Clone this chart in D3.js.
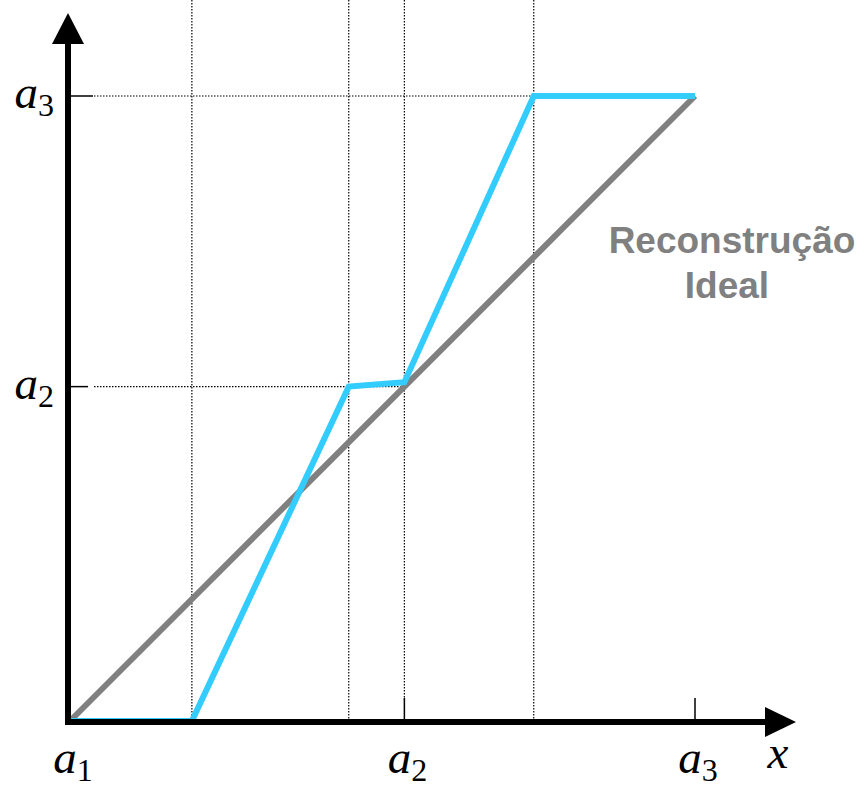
<!DOCTYPE html>
<html>
<head>
<meta charset="utf-8">
<script src="https://cdn.jsdelivr.net/npm/d3@7"></script>
<style>
  html, body { margin: 0; padding: 0; background: #fff; }
  svg { display: block; }
</style>
</head>
<body>
<svg id="chart" width="861" height="787"></svg>
<script>
// Quantization levels, in input units (a1 = 0, a3 = 100)
const levels = [
  { name: "a", sub: "1", value: 0 },
  { name: "a", sub: "2", value: 53.5 },
  { name: "a", sub: "3", value: 100 }
];

// Ideal reconstruction: output equals input
const idealX = [0, 100];
const idealY = [0, 100];

// Actual reconstruction curve (piecewise linear)
const curveX = [0, 19.5, 44.6, 53.5, 74.2, 100];
const curveY = [0, 0, 53.5, 54.2, 100, 100];

// Input positions marked with dotted guides
const guideX = [19.5, 44.6, 53.5, 74.2];
const guideY = [53.5, 100];

const curveLabel = ["Reconstrução", "Ideal"];

const svg = d3.select("#chart");
const x = d3.scaleLinear().domain([0, 100]).range([70, 695]);
const y = d3.scaleLinear().domain([0, 100]).range([721, 96]);

const x0 = 68, y0 = 722;

// Dotted guides
const g = svg.append("g").attr("stroke", "#000").attr("stroke-width", 1.2)
  .attr("stroke-dasharray", "1.5,1.5").attr("fill", "none");
guideX.forEach(v => {
  const bottom = v === 53.5 ? 700 : y0;
  g.append("line").attr("x1", x(v)).attr("x2", x(v)).attr("y1", 0).attr("y2", bottom);
});
guideY.forEach(v => {
  const right = v === 100 ? x(100) : x(53.5);
  g.append("line").attr("x1", 94).attr("x2", right).attr("y1", y(v)).attr("y2", y(v));
});

// Tick marks
const ticks = svg.append("g").attr("stroke", "#000").attr("stroke-width", 1.5);
levels.filter(d => d.value > 0).forEach(d => {
  ticks.append("line").attr("x1", x(d.value)).attr("x2", x(d.value)).attr("y1", 698).attr("y2", y0);
  ticks.append("line").attr("x1", x0).attr("x2", d.value === 100 ? 93 : 88).attr("y1", y(d.value)).attr("y2", y(d.value));
});

// Curves
const line = d3.line().x(d => x(d[0])).y(d => y(d[1]));
svg.append("path")
  .attr("d", line(d3.zip(idealX, idealY)))
  .attr("fill", "none").attr("stroke", "#808080").attr("stroke-width", 6);
svg.append("path")
  .attr("d", line(d3.zip(curveX, curveY)))
  .attr("fill", "none").attr("stroke", "#33ccff").attr("stroke-width", 6)
  .attr("stroke-linejoin", "miter");

// Axes with arrowheads
svg.append("line").attr("x1", x0).attr("x2", x0).attr("y1", 40).attr("y2", y0 + 3)
  .attr("stroke", "#000").attr("stroke-width", 6);
svg.append("line").attr("x1", x0 - 3).attr("x2", 768).attr("y1", y0).attr("y2", y0)
  .attr("stroke", "#000").attr("stroke-width", 6);
svg.append("path").attr("d", `M${x0},13 L${x0 + 16},44 L${x0 - 16},44 Z`).attr("fill", "#000");
svg.append("path").attr("d", `M796,${y0} L765,${y0 - 15} L765,${y0 + 15} Z`).attr("fill", "#000");

// Level labels
const serif = "'Liberation Serif', 'Times New Roman', serif";
function levelLabel(sel, d) {
  sel.attr("font-family", serif).attr("font-style", "italic").attr("font-size", 47).attr("fill", "#000");
  sel.append("tspan").text(d.name);
  sel.append("tspan").attr("font-style", "normal").attr("font-size", 32).attr("dy", 8).text(d.sub);
}
levels.forEach(d => {
  svg.append("text").attr("x", x(d.value) + 3).attr("y", 773).attr("text-anchor", "middle")
    .call(levelLabel, d);
});
levels.filter(d => d.value > 0).forEach(d => {
  svg.append("text").attr("x", 54).attr("y", y(d.value) + 12).attr("text-anchor", "end")
    .call(levelLabel, d);
});
svg.append("text").attr("x", 778).attr("y", 768).attr("text-anchor", "middle")
  .attr("font-family", serif).attr("font-style", "italic").attr("font-size", 47).text("x");

// Curve annotation
svg.append("text").attr("y", 253).attr("text-anchor", "middle")
  .attr("font-family", "'Liberation Sans', Arial, sans-serif").attr("font-weight", "bold")
  .attr("font-size", 37).attr("fill", "#808080")
  .selectAll("tspan").data(curveLabel).join("tspan")
  .attr("x", (d, i) => i === 0 ? 732 : 727).attr("dy", (d, i) => i === 0 ? 0 : 45).text(d => d);
</script>
</body>
</html>
